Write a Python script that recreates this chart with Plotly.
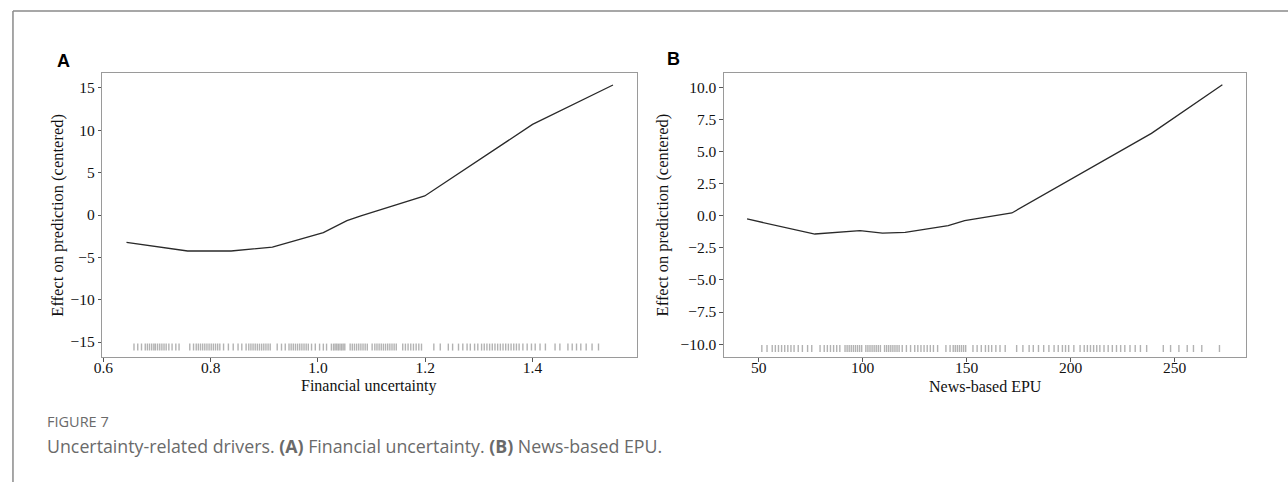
import plotly.graph_objects as go

W, H = 1288, 482

# ---------------- data ----------------
fin_x = [0.643, 0.757, 0.838, 0.915, 1.010, 1.054, 1.080, 1.199, 1.400, 1.550]
fin_y = [-3.22, -4.25, -4.25, -3.80, -2.08, -0.67, -0.10, 2.25, 10.70, 15.35]

fin_rug = [0.657, 0.664, 0.671, 0.678, 0.682, 0.686, 0.690, 0.694, 0.697, 0.701, 0.705, 0.709,
           0.713, 0.717, 0.722, 0.728, 0.735, 0.741,
           0.761, 0.768, 0.773, 0.777, 0.781, 0.785, 0.789, 0.793, 0.797, 0.801, 0.805, 0.809,
           0.813, 0.817, 0.824,
           0.833, 0.842, 0.851, 0.858, 0.866, 0.871, 0.875, 0.879, 0.883, 0.887, 0.891, 0.895,
           0.899, 0.903, 0.907, 0.911,
           0.924, 0.932, 0.939, 0.946, 0.950, 0.954, 0.958, 0.962, 0.966, 0.970, 0.974, 0.978,
           0.982, 0.988, 0.995, 1.003, 1.010, 1.016,
           1.025, 1.029, 1.032, 1.035, 1.038, 1.041, 1.044, 1.047, 1.050,
           1.060, 1.064, 1.068, 1.072, 1.076, 1.080, 1.084, 1.088, 1.092,
           1.101, 1.106, 1.110, 1.114, 1.118, 1.122, 1.126, 1.130, 1.134, 1.138, 1.142, 1.146,
           1.158, 1.163, 1.168, 1.173, 1.178, 1.183, 1.188, 1.193,
           1.216, 1.228, 1.243, 1.251, 1.262, 1.270, 1.278,
           1.284, 1.292, 1.298, 1.305, 1.310, 1.315, 1.320, 1.325, 1.330, 1.335, 1.340, 1.345,
           1.350, 1.355, 1.360, 1.365, 1.370, 1.375, 1.382, 1.390, 1.398, 1.405, 1.414, 1.424,
           1.442, 1.451, 1.466, 1.474, 1.482, 1.490, 1.500, 1.511, 1.523]

epu_x = [44.4, 77.0, 98.7, 109.5, 120.4, 141.1, 149.0, 171.7, 238.8, 272.9]
epu_y = [-0.26, -1.43, -1.17, -1.36, -1.30, -0.78, -0.39, 0.21, 6.40, 10.18]

epu_rug = [51.5, 54, 56.5, 58, 59.5, 61, 62.5, 64, 65.5, 67, 69, 71, 73.5, 75.5,
           79.5, 81.5, 83, 84.5, 86, 87.5, 89,
           91.5, 92.5, 93.5, 94.5, 95.5, 96.5, 97.5, 98.5, 99.5,
           101.5, 102.5, 103.5, 104.5, 105.5, 106.5, 107.5, 108.5,
           110.5, 111.5, 112.5, 113.5, 114.5, 115.5, 116.5, 117.5, 119,
           121, 123, 125, 126.5, 128, 129.5, 131, 132.5, 134, 136,
           140, 142, 143.5, 144.5, 145.5, 146.5, 147.5, 148.5, 149.5,
           153, 155, 157, 159, 160.5, 162, 164, 166, 168.5,
           174, 177, 180, 182, 184.5,
           187, 189.5, 192, 194, 196, 197.5, 199, 201.5,
           204.5, 206.5, 208, 209.5, 211, 212.5, 214, 216, 218, 220, 222, 224, 226, 228.5,
           231, 233.5, 236.5,
           244.5, 248, 252, 256, 259, 263, 271.5]

fin_rug_level = -15.6
epu_rug_level = -10.34

fin_xticks = [0.6, 0.8, 1.0, 1.2, 1.4]
fin_yticks = [-15, -10, -5, 0, 5, 10, 15]
epu_xticks = [50, 100, 150, 200, 250]
epu_yticks = [-10.0, -7.5, -5.0, -2.5, 0.0, 2.5, 5.0, 7.5, 10.0]

# ---------------- layout helpers ----------------
def px_x(p):
    return p / W

def px_y(p):
    return 1 - p / H

SERIF = "Liberation Serif"
SANS = "Open Sans"
frame_col = "#9a9a9a"

fig = go.Figure()

line_style = dict(color="#2a2a2a", width=1.3)
rug_style = dict(symbol="line-ns", size=5, line=dict(width=1.4, color="rgba(0,0,0,0.30)"))

fig.add_trace(go.Scatter(x=fin_rug, y=[fin_rug_level] * len(fin_rug), mode="markers",
                         marker=rug_style, xaxis="x", yaxis="y", hoverinfo="skip"))
fig.add_trace(go.Scatter(x=fin_x, y=fin_y, mode="lines", line=line_style, xaxis="x", yaxis="y"))
fig.add_trace(go.Scatter(x=epu_rug, y=[epu_rug_level] * len(epu_rug), mode="markers",
                         marker=rug_style, xaxis="x2", yaxis="y2", hoverinfo="skip"))
fig.add_trace(go.Scatter(x=epu_x, y=epu_y, mode="lines", line=line_style, xaxis="x2", yaxis="y2"))

axis_common = dict(showgrid=False, zeroline=False, showline=True, mirror=True,
                   linecolor=frame_col, linewidth=1.2, ticks="outside", ticklen=3.5,
                   tickwidth=1, tickcolor="#555555",
                   tickfont=dict(family=SERIF, size=15.5, color="#111111"))

ydom = [px_y(357), px_y(73)]

fig.update_layout(
    width=W, height=H, margin=dict(l=0, r=0, t=0, b=0),
    paper_bgcolor="white", plot_bgcolor="white", showlegend=False,
    xaxis=dict(domain=[px_x(94), px_x(632)], range=[0.598, 1.594], anchor="y",
               tickvals=fin_xticks, ticktext=[f"{v:.1f}" for v in fin_xticks],
               ticklabelstandoff=-7, **axis_common),
    yaxis=dict(domain=ydom, range=[-16.77, 16.77], anchor="x",
               tickvals=fin_yticks, ticktext=[str(v).replace("-", "\u2212") for v in fin_yticks],
               **axis_common),
    xaxis2=dict(domain=[px_x(720), px_x(1246)], range=[33.3, 284.4], anchor="y2",
                tickvals=epu_xticks, ticktext=[str(v) for v in epu_xticks],
                ticklabelstandoff=-7, **axis_common),
    yaxis2=dict(domain=ydom, range=[-11.0, 11.1], anchor="x2",
                tickvals=epu_yticks,
                ticktext=[f"{v:.1f}".replace("-", "\u2212") for v in epu_yticks],
                **axis_common),
)

ann = []
# axis titles
ann.append(dict(text="Financial uncertainty", x=px_x(363), y=px_y(386), xref="paper", yref="paper",
                showarrow=False, font=dict(family=SERIF, size=16, color="#111111"),
                xanchor="center", yanchor="middle"))
ann.append(dict(text="News-based EPU", x=px_x(983), y=px_y(386), xref="paper", yref="paper",
                showarrow=False, font=dict(family=SERIF, size=16, color="#111111"),
                xanchor="center", yanchor="middle"))
ann.append(dict(text="Effect on prediction (centered)", x=px_x(49), y=px_y(215), xref="paper",
                yref="paper", showarrow=False, textangle=-90,
                font=dict(family=SERIF, size=16.5, color="#111111"),
                xanchor="center", yanchor="middle"))
ann.append(dict(text="Effect on prediction (centered)", x=px_x(659), y=px_y(215), xref="paper",
                yref="paper", showarrow=False, textangle=-90,
                font=dict(family=SERIF, size=16.5, color="#111111"),
                xanchor="center", yanchor="middle"))
# panel letters
ann.append(dict(text="<b>A</b>", x=px_x(55), y=px_y(61), xref="paper", yref="paper",
                showarrow=False, font=dict(family="Liberation Sans", size=18, color="#000000"),
                xanchor="center", yanchor="middle"))
ann.append(dict(text="<b>B</b>", x=px_x(669), y=px_y(59), xref="paper", yref="paper",
                showarrow=False, font=dict(family="Liberation Sans", size=18, color="#000000"),
                xanchor="center", yanchor="middle"))
# caption
ann.append(dict(text="FIGURE 7", x=px_x(36), y=px_y(421), xref="paper", yref="paper",
                showarrow=False, font=dict(family=SANS, size=14.5, color="#6a6a6a"),
                xanchor="left", yanchor="middle"))
ann.append(dict(text="Uncertainty-related drivers. <b>(A)</b> Financial uncertainty. "
                     "<b>(B)</b> News-based EPU.",
                x=px_x(36), y=px_y(446), xref="paper", yref="paper",
                showarrow=False, font=dict(family=SANS, size=17.8, color="#6a6a6a"),
                xanchor="left", yanchor="middle"))
fig.update_layout(annotations=ann)

# outer frame (top and left rules)
fig.add_shape(type="line", xref="paper", yref="paper", x0=px_x(4), x1=1.0,
              y0=px_y(11), y1=px_y(11), line=dict(color="#8a8a8a", width=1.5))
fig.add_shape(type="line", xref="paper", yref="paper", x0=px_x(4), x1=px_x(4),
              y0=px_y(11), y1=0, line=dict(color="#8a8a8a", width=1.5))

fig.write_html("out.html")
